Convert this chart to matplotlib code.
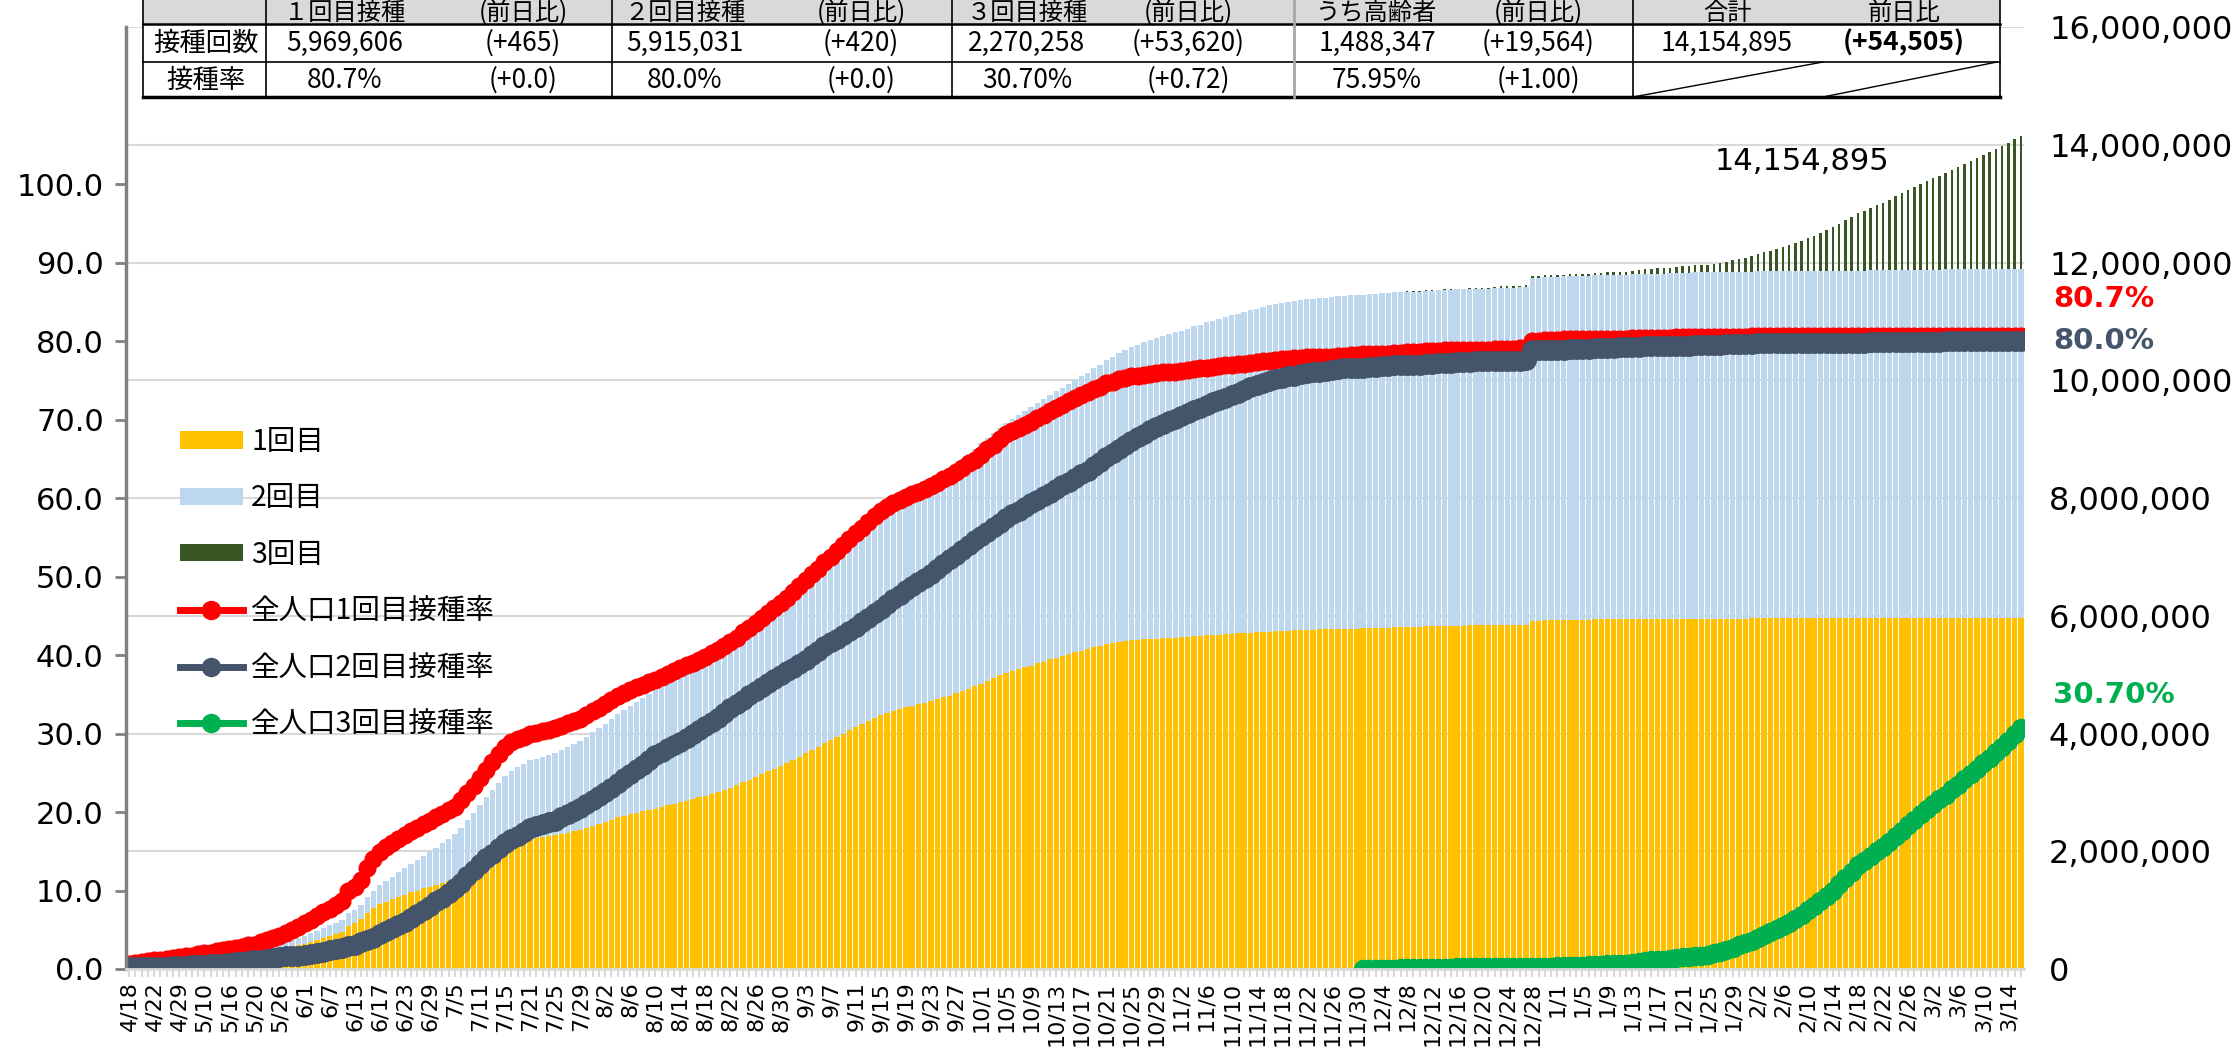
import numpy as np
import matplotlib
matplotlib.use('Agg')
import matplotlib.pyplot as plt
from matplotlib.lines import Line2D
from matplotlib.patches import Patch, Rectangle

plt.rcParams['font.family'] = ['DejaVu Sans', 'Noto Sans CJK JP']

"""
(1) data
"""

POP = 7395000
total_doses = 14154895

tick_labels = ['4/18', '4/22', '4/29', '5/10', '5/16', '5/20', '5/26', '6/1', '6/7', '6/13',
               '6/17', '6/23', '6/29', '7/5', '7/11', '7/15', '7/21', '7/25', '7/29', '8/2',
               '8/6', '8/10', '8/14', '8/18', '8/22', '8/26', '8/30', '9/3', '9/7', '9/11',
               '9/15', '9/19', '9/23', '9/27', '10/1', '10/5', '10/9', '10/13', '10/17', '10/21',
               '10/25', '10/29', '11/2', '11/6', '11/10', '11/14', '11/18', '11/22', '11/26', '11/30',
               '12/4', '12/8', '12/12', '12/16', '12/20', '12/24', '12/28', '1/1', '1/5', '1/9',
               '1/13', '1/17', '1/21', '1/25', '1/29', '2/2', '2/6', '2/10', '2/14', '2/18',
               '2/22', '2/26', '3/2', '3/6', '3/10', '3/14']

# 全人口1回目接種率 (%)
rate1 = [
    0.7, 0.8, 0.9, 1.0, 1.1, 1.2, 1.3, 1.4, 1.5, 1.6, 1.7, 1.9, 2.0, 2.1, 2.3, 2.4,
    2.5, 2.7, 2.8, 3.0, 3.1, 3.4, 3.7, 3.9, 4.2, 4.6, 5.0, 5.4, 5.8, 6.3, 6.7, 7.2,
    7.6, 8.1, 8.6, 9.9, 10.5, 11.4, 12.9, 14.0, 14.9, 15.5, 16.0, 16.6, 17.1, 17.6, 18.0, 18.5,
    18.9, 19.3, 19.8, 20.2, 20.7, 21.5, 22.4, 23.3, 24.3, 25.3, 26.4, 27.4, 28.3, 28.9, 29.3, 29.6,
    29.9, 30.1, 30.3, 30.5, 30.7, 31.0, 31.3, 31.6, 31.9, 32.4, 32.9, 33.3, 33.8, 34.3, 34.8, 35.2,
    35.6, 35.9, 36.2, 36.5, 36.8, 37.2, 37.6, 37.9, 38.3, 38.7, 39.0, 39.4, 39.7, 40.2, 40.7, 41.1,
    41.6, 42.2, 42.9, 43.5, 44.1, 44.7, 45.4, 46.0, 46.6, 47.3, 48.0, 48.8, 49.5, 50.3, 51.0, 51.8,
    52.5, 53.3, 54.0, 54.8, 55.5, 56.2, 57.0, 57.7, 58.4, 58.9, 59.3, 59.7, 60.1, 60.5, 60.8, 61.2,
    61.5, 61.9, 62.4, 62.8, 63.3, 63.8, 64.4, 64.9, 65.5, 66.2, 66.8, 67.5, 68.1, 68.5, 68.9, 69.3,
    69.7, 70.2, 70.6, 71.1, 71.5, 71.9, 72.3, 72.7, 73.1, 73.5, 73.9, 74.2, 74.6, 74.8, 75.1, 75.3,
    75.5, 75.6, 75.7, 75.8, 75.9, 76.0, 76.0, 76.1, 76.2, 76.3, 76.4, 76.5, 76.6, 76.7, 76.8, 76.9,
    77.0, 77.1, 77.1, 77.2, 77.3, 77.4, 77.5, 77.6, 77.7, 77.7, 77.8, 77.8, 77.9, 77.9, 78.0, 78.0,
    78.0, 78.1, 78.1, 78.2, 78.2, 78.3, 78.3, 78.4, 78.4, 78.4, 78.5, 78.5, 78.6, 78.6, 78.6, 78.7,
    78.7, 78.7, 78.8, 78.8, 78.8, 78.8, 78.9, 78.9, 78.9, 78.9, 79.0, 79.0, 79.0, 79.0, 79.1, 79.1,
    80.0, 80.0, 80.1, 80.1, 80.1, 80.2, 80.2, 80.2, 80.2, 80.2, 80.3, 80.3, 80.3, 80.3, 80.3, 80.3,
    80.4, 80.4, 80.4, 80.4, 80.4, 80.4, 80.4, 80.5, 80.5, 80.5, 80.5, 80.5, 80.5, 80.5, 80.5, 80.5,
    80.5, 80.5, 80.5, 80.6, 80.6, 80.6, 80.6, 80.6, 80.6, 80.6, 80.6, 80.6, 80.6, 80.6, 80.6, 80.6,
    80.6, 80.6, 80.6, 80.6, 80.6, 80.6, 80.6, 80.6, 80.6, 80.6, 80.7, 80.7, 80.7, 80.7, 80.7, 80.7,
    80.7, 80.7, 80.7, 80.7, 80.7, 80.7, 80.7, 80.7, 80.7, 80.7, 80.7, 80.7, 80.7, 80.7, 80.7,
]

# 全人口2回目接種率 (%)
rate2 = [
    0.2, 0.2, 0.2, 0.3, 0.3, 0.3, 0.3, 0.4, 0.4, 0.4, 0.5, 0.5, 0.5, 0.6, 0.7, 0.7,
    0.8, 0.9, 0.9, 1.0, 1.1, 1.2, 1.3, 1.4, 1.5, 1.6, 1.7, 1.7, 1.8, 1.9, 2.1, 2.2,
    2.4, 2.5, 2.7, 2.9, 3.1, 3.4, 3.7, 4.0, 4.4, 4.8, 5.2, 5.6, 6.0, 6.5, 7.0, 7.5,
    8.0, 8.6, 9.1, 9.7, 10.3, 11.0, 11.8, 12.6, 13.4, 14.1, 14.7, 15.4, 16.0, 16.5, 17.0, 17.5,
    18.0, 18.2, 18.5, 18.7, 18.9, 19.3, 19.7, 20.1, 20.5, 21.0, 21.5, 22.0, 22.5, 23.1, 23.7, 24.3,
    24.9, 25.5, 26.0, 26.6, 27.2, 27.6, 28.1, 28.5, 28.9, 29.4, 29.9, 30.4, 30.9, 31.5, 32.0, 32.6,
    33.2, 33.8, 34.3, 34.9, 35.4, 35.9, 36.4, 36.9, 37.4, 37.9, 38.4, 38.9, 39.4, 40.0, 40.5, 41.1,
    41.6, 42.1, 42.6, 43.1, 43.6, 44.2, 44.7, 45.3, 45.9, 46.5, 47.1, 47.7, 48.3, 48.8, 49.3, 49.8,
    50.3, 50.9, 51.6, 52.2, 52.8, 53.4, 54.0, 54.6, 55.2, 55.7, 56.3, 56.8, 57.4, 57.9, 58.4, 58.8,
    59.3, 59.8, 60.3, 60.7, 61.2, 61.6, 62.1, 62.5, 63.0, 63.5, 64.1, 64.6, 65.2, 65.7, 66.3, 66.8,
    67.3, 67.8, 68.2, 68.7, 69.1, 69.4, 69.8, 70.1, 70.4, 70.8, 71.2, 71.5, 71.9, 72.2, 72.5, 72.8,
    73.1, 73.4, 73.8, 74.1, 74.4, 74.6, 74.9, 75.1, 75.3, 75.5, 75.6, 75.8, 75.9, 76.0, 76.1, 76.2,
    76.3, 76.4, 76.5, 76.5, 76.6, 76.6, 76.7, 76.7, 76.8, 76.8, 76.9, 76.9, 77.0, 77.0, 77.0, 77.1,
    77.1, 77.2, 77.2, 77.2, 77.3, 77.3, 77.3, 77.4, 77.4, 77.4, 77.4, 77.5, 77.5, 77.5, 77.5, 77.6,
    78.8, 78.8, 78.9, 78.9, 78.9, 78.9, 79.0, 79.0, 79.0, 79.0, 79.1, 79.1, 79.1, 79.1, 79.2, 79.2,
    79.2, 79.2, 79.3, 79.3, 79.3, 79.3, 79.4, 79.4, 79.4, 79.4, 79.5, 79.5, 79.5, 79.5, 79.5, 79.6,
    79.6, 79.6, 79.6, 79.6, 79.7, 79.7, 79.7, 79.7, 79.7, 79.7, 79.7, 79.8, 79.8, 79.8, 79.8, 79.8,
    79.8, 79.8, 79.8, 79.8, 79.8, 79.8, 79.9, 79.9, 79.9, 79.9, 79.9, 79.9, 79.9, 79.9, 79.9, 79.9,
    79.9, 79.9, 80.0, 80.0, 80.0, 80.0, 80.0, 80.0, 80.0, 80.0, 80.0, 80.0, 80.0, 80.0, 80.0,
]

# 全人口3回目接種率 (%), from 12/1
rate3_start = 197
rate3 = [
    0.0, 0.0, 0.0, 0.0, 0.0, 0.0, 0.1, 0.1, 0.1, 0.1, 0.1, 0.1, 0.1, 0.1, 0.1, 0.2,
    0.2, 0.2, 0.2, 0.2, 0.2, 0.2, 0.3, 0.3, 0.3, 0.3, 0.3, 0.3, 0.3, 0.3, 0.3, 0.4,
    0.4, 0.4, 0.4, 0.4, 0.5, 0.5, 0.5, 0.6, 0.6, 0.7, 0.7, 0.8, 0.9, 1.0, 1.1, 1.2,
    1.2, 1.3, 1.4, 1.5, 1.5, 1.6, 1.7, 1.8, 2.0, 2.2, 2.4, 2.7, 3.0, 3.3, 3.6, 4.0,
    4.3, 4.7, 5.1, 5.5, 5.9, 6.4, 6.9, 7.5, 8.0, 8.6, 9.3, 10.0, 10.8, 11.6, 12.4, 13.2,
    13.8, 14.4, 15.0, 15.5, 16.2, 16.9, 17.6, 18.3, 19.0, 19.7, 20.4, 21.0, 21.6, 22.2, 22.9, 23.5,
    24.2, 24.8, 25.5, 26.2, 26.9, 27.6, 28.3, 29.0, 29.98, 30.70,
]

table_header = ['', '１回目接種', '(前日比)', '２回目接種', '(前日比)', '３回目接種', '(前日比)',
                'うち高齢者', '(前日比)', '合計', '前日比']
table_counts = ['接種回数', '5,969,606', '(+465)', '5,915,031', '(+420)', '2,270,258', '(+53,620)',
                '1,488,347', '(+19,564)', '14,154,895', '(+54,505)']
table_rates = ['接種率', '80.7%', '(+0.0)', '80.0%', '(+0.0)', '30.70%', '(+0.72)',
               '75.95%', '(+1.00)', '', '']

"""
(2) plot
"""

C1, C2, C3 = '#FFC000', '#BDD7EE', '#375623'
L1, L2, L3 = '#FF0000', '#44546A', '#00B050'
CJK = ['Noto Sans CJK JP', 'DejaVu Sans']

W, H = 2234, 1048
fig = plt.figure(figsize=(W / 100, H / 100), dpi=100)
ax = fig.add_axes([126 / W, 1 - 969 / H, (2024 - 126) / W, (969 - 27) / H])
axr = ax.twinx()
ax.set_zorder(axr.get_zorder() + 1)
ax.patch.set_visible(False)

x = np.arange(len(rate1))
r1 = np.array(rate1)
r2 = np.array(rate2)
r3 = np.array(rate3)
x3 = np.arange(rate3_start, rate3_start + len(rate3))
d1 = r1 * POP / 100
d2 = r2 * POP / 100
d3 = r3 * POP / 100

axr.bar(x, d1, width=0.85, color=C1, linewidth=0)
axr.bar(x, d2, bottom=d1, width=0.85, color=C2, linewidth=0)
axr.bar(x3, d3, bottom=(d1 + d2)[rate3_start:], width=0.4, color=C3, linewidth=0)

ax.plot(x, r1, color=L1, lw=5, marker='o', ms=12)
ax.plot(x, r2, color=L2, lw=5, marker='o', ms=14)
ax.plot(x3, r3, color=L3, lw=5, marker='o', ms=13)

ax.set_xlim(-0.5, len(x) - 0.5)
ax.set_ylim(0, 120)
axr.set_ylim(0, 16e6)

ax.set_yticks(np.arange(0, 101, 10))
ax.set_yticklabels([f'{v:.1f}' for v in np.arange(0, 101, 10)])
ax.tick_params(axis='y', color='#808080', length=8, width=2, labelsize=22, pad=8)

rt = np.arange(0, 16e6 + 1, 2e6)
axr.set_yticks(rt)
axr.set_yticklabels([f'{v:,.0f}' for v in rt])
axr.tick_params(axis='y', length=0, labelsize=23, pad=18)
axr.yaxis.grid(True, color='#D9D9D9', lw=1.5)
axr.set_axisbelow(True)

labels = [''] * len(x)
for k, lab in enumerate(tick_labels):
    labels[4 * k] = lab
ax.set_xticks(x)
ax.set_xticklabels(labels, rotation=90)
ax.tick_params(axis='x', length=6, width=1.5, color='#D9D9D9', labelsize=16, pad=3)

for s in ['top', 'right']:
    ax.spines[s].set_visible(False)
for s in axr.spines.values():
    s.set_visible(False)
ax.spines['left'].set_color('#808080')
ax.spines['left'].set_linewidth(2.5)
ax.spines['bottom'].set_color('#D9D9D9')
ax.spines['bottom'].set_linewidth(2)

# end labels
ax.annotate(f'{r1[-1]:.1f}%', xy=(x[-1], r1[-1]), xytext=(23, 26), textcoords='offset points',
            ha='left', va='center', color=L1, fontsize=21, fontweight='bold', annotation_clip=False)
ax.annotate(f'{r2[-1]:.1f}%', xy=(x[-1], r2[-1]), xytext=(23, 0), textcoords='offset points',
            ha='left', va='center', color=L2, fontsize=21, fontweight='bold', annotation_clip=False)
ax.annotate(f'{r3[-1]:.2f}%', xy=(x3[-1], r3[-1]), xytext=(23, 24), textcoords='offset points',
            ha='left', va='center', color=L3, fontsize=21, fontweight='bold', annotation_clip=False)
axr.text(267, 13.72e6, f'{total_doses:,}', ha='center', va='center', fontsize=22)

# legend
handles = [Patch(facecolor=C1, edgecolor='none'), Patch(facecolor=C2, edgecolor='none'),
           Patch(facecolor=C3, edgecolor='none'),
           Line2D([], [], color=L1, lw=5, marker='o', ms=13),
           Line2D([], [], color=L2, lw=5, marker='o', ms=13),
           Line2D([], [], color=L3, lw=5, marker='o', ms=13)]
names = ['1回目', '2回目', '3回目', '全人口1回目接種率', '全人口2回目接種率', '全人口3回目接種率']
ax.legend(handles, names, loc='upper left', bbox_to_anchor=(180 / W, 1 - 427 / H),
          bbox_transform=fig.transFigure, frameon=False,
          prop={'family': CJK, 'size': 20.5},
          handlelength=2.2, handleheight=0.55, handletextpad=0.3, labelspacing=0.93,
          borderpad=0, borderaxespad=0)

"""
(3) table
"""

tax = fig.add_axes([0, 0, 1, 1])
tax.set_xlim(0, W)
tax.set_ylim(H, 0)
tax.axis('off')
tax.set_zorder(10)

tl, tr = 143, 2000
rows = [-20, 24, 62, 97]
tax.add_patch(Rectangle((tl, rows[0]), tr - tl, rows[1] - rows[0], facecolor='#D9D9D9', edgecolor='none'))
tax.add_patch(Rectangle((tl, rows[1]), tr - tl, rows[3] - rows[1], facecolor='white', edgecolor='none'))
tax.plot([tl, tr], [rows[1], rows[1]], color='black', lw=1.8)
tax.plot([tl, tr], [rows[2], rows[2]], color='black', lw=1.2)
tax.plot([tl, tr], [rows[3], rows[3]], color='black', lw=2.5)
for vx in [tl, 266, 612, 952, 1633, tr]:
    tax.plot([vx, vx], [rows[0], rows[3]], color='black', lw=1.2)
tax.plot([1294, 1294], [rows[0], rows[3]], color='#A6A6A6', lw=2)
tax.plot([1633, 1823], [rows[3], rows[2]], color='black', lw=1)
tax.plot([1823, 1997], [rows[3], rows[2]], color='black', lw=1)

col_x = [206, 345, 523, 685, 861, 1027, 1188, 1377, 1538, 1727, 1904]
for cx, h, c, r in zip(col_x, table_header, table_counts, table_rates):
    tax.text(cx, 13, h, ha='center', va='center', fontsize=17.5, family=CJK)
    weight = 'bold' if c == table_counts[-1] else 'normal'
    tax.text(cx, 43, c, ha='center', va='center', fontsize=19, fontweight=weight, family=CJK)
    tax.text(cx, 80, r, ha='center', va='center', fontsize=19, family=CJK)

fig.savefig('out.png', dpi=100)
